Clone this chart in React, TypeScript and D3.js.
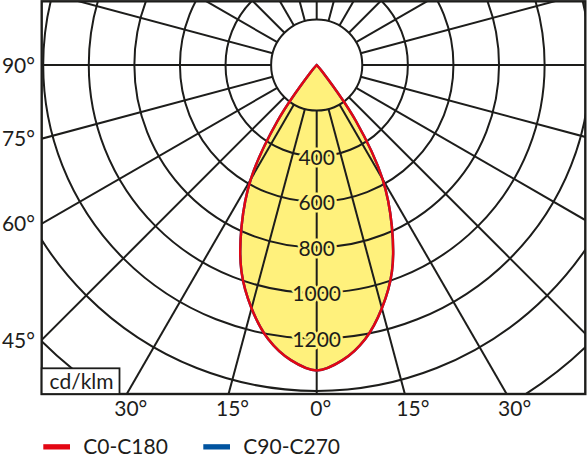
import * as d3 from "d3";
import React from "react";

// luminous intensity, cd/klm, per gamma angle (5° steps)
const gammaDeg = [0, 5, 10, 15, 20, 25, 30, 35, 40, 45, 50, 55, 60, 65, 70, 75, 80, 85, 90];
const c0c180 = [1340, 1300, 1222, 1105, 965, 780, 578, 300, 40, 0, 0, 0, 0, 0, 0, 0, 0, 0, 0];
const c90c270 = [1340, 1300, 1222, 1105, 965, 780, 578, 300, 40, 0, 0, 0, 0, 0, 0, 0, 0, 0, 0];

// grid
const ringValues = [200, 400, 600, 800, 1000, 1200, 1430, 1710];
const ringLabels = [400, 600, 800, 1000, 1200];
const spokeAngles = d3.range(0, 360, 15);
const leftAngleLabels = [90, 75, 60, 45];
const bottomAngleLabels = [-30, -15, 0, 15, 30];

const legendItems = [
  { name: "C0-C180", color: "#e30613" },
  { name: "C90-C270", color: "#0054a0" },
];

const W = 588;
const H = 460;
const cx = 316.7;
const cy = 65;
const frame = { x0: 41.7, y0: 1.3, x1: 585.3, y1: 394 };
const ink = "#1d1d1b";
const yellow = "#fff17c";
const font = "Lato, 'Open Sans', sans-serif";

const r = d3.scaleLinear().domain([0, 1200]).range([0, 273.5]);
const rad = (deg: number) => (deg * Math.PI) / 180;

// build the closed lobe: left half mirrored (negative angles), right half positive
function lobePath(values: number[]) {
  let last = values.length - 1;
  while (last > 0 && values[last - 1] === 0) last--;
  const pts: [number, number][] = [];
  for (let i = last; i >= 1; i--) pts.push([-gammaDeg[i], values[i]]);
  for (let i = 0; i <= last; i++) pts.push([gammaDeg[i], values[i]]);
  const line = d3
    .lineRadial<[number, number]>()
    .angle((d) => Math.PI - rad(d[0]))
    .radius((d) => r(d[1]))
    .curve(d3.curveCatmullRom.alpha(0.5));
  return line(pts) + "Z";
}

const App: React.FC = () => {
  const red = lobePath(c0c180);
  const blue = lobePath(c90c270);
  const rMax = 700;

  return (
    <svg
      width={W}
      height={H}
      style={{ position: "absolute", left: 0, top: 0, background: "#fff" }}
      fontFamily={font}
    >
      <defs>
        <clipPath id="frame-clip">
          <rect x={frame.x0} y={frame.y0} width={frame.x1 - frame.x0} height={frame.y1 - frame.y0} />
        </clipPath>
      </defs>

      <g clipPath="url(#frame-clip)">
        {/* lobe fill under the grid */}
        <path d={red} transform={`translate(${cx},${cy})`} fill={yellow} stroke="none" />

        {/* rings */}
        {ringValues.map((v) => (
          <circle key={v} cx={cx} cy={cy} r={r(v)} fill="none" stroke={ink} strokeWidth={2} />
        ))}

        {/* spokes from the inner ring outwards */}
        {spokeAngles.map((a) => {
          const r0 = r(200);
          return (
            <line
              key={a}
              x1={cx + r0 * Math.sin(rad(a))}
              y1={cy + r0 * Math.cos(rad(a))}
              x2={cx + rMax * Math.sin(rad(a))}
              y2={cy + rMax * Math.cos(rad(a))}
              stroke={ink}
              strokeWidth={2}
            />
          );
        })}

        <path d={blue} transform={`translate(${cx},${cy})`} fill="none" stroke={legendItems[1].color} strokeWidth={2.5} />
        <path d={red} transform={`translate(${cx},${cy})`} fill="none" stroke={legendItems[0].color} strokeWidth={2.5} strokeLinejoin="round" />

        {/* intensity labels on the 0° axis */}
        {ringLabels.map((v) => (
          <text
            key={v}
            x={cx}
            y={cy + r(v)}
            textAnchor="middle"
            dominantBaseline="central"
            fontSize={21}
            fill={ink}
            stroke={yellow}
            strokeWidth={5}
            paintOrder="stroke"
            strokeLinejoin="round"
          >
            {v}
          </text>
        ))}
      </g>

      {/* frame */}
      <rect
        x={frame.x0}
        y={frame.y0}
        width={frame.x1 - frame.x0}
        height={frame.y1 - frame.y0}
        fill="none"
        stroke={ink}
        strokeWidth={2.4}
      />

      {/* unit box */}
      <rect x={frame.x0} y={368.3} width={119.5 - frame.x0} height={frame.y1 - 368.3} fill="#fff" stroke={ink} strokeWidth={1.8} />
      <text x={49.5} y={389} fontSize={21} fill={ink}>
        cd/klm
      </text>

      {/* angle labels, left edge */}
      {leftAngleLabels.map((a) => {
        const y = a === 90 ? cy : cy + (cx - frame.x0) / Math.tan(rad(a));
        return (
          <text key={a} x={35} y={y + 7.5} textAnchor="end" fontSize={21} fill={ink}>
            {a}°
          </text>
        );
      })}

      {/* angle labels, bottom edge */}
      {bottomAngleLabels.map((a) => {
        const x = cx + (frame.y1 - cy) * Math.tan(rad(a));
        const off = a > 0 ? 8 : 4;
        return (
          <text key={a} x={x + off} y={416} textAnchor="middle" fontSize={21} fill={ink}>
            {Math.abs(a)}°
          </text>
        );
      })}

      {/* legend */}
      {legendItems.map((item, i) => {
        const x0 = 43.3 + i * 160;
        return (
          <g key={item.name}>
            <rect x={x0} y={444.2} width={26.7} height={5.3} fill={item.color} />
            <text x={x0 + 40} y={453.5} fontSize={21} fill={ink}>
              {item.name}
            </text>
          </g>
        );
      })}
    </svg>
  );
};

export default App;
